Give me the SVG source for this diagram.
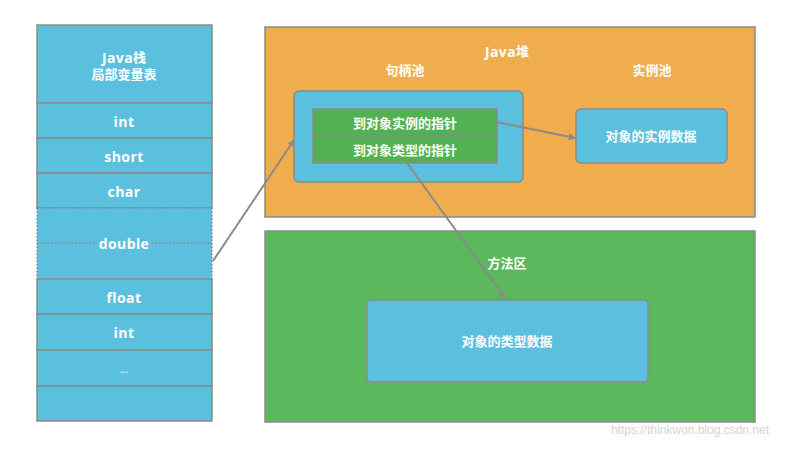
<svg xmlns="http://www.w3.org/2000/svg" width="804" height="461" viewBox="0 0 804 461">
<style>
text{font-family:"Open Sans","Noto Sans CJK SC",sans-serif;font-size:13px;font-weight:bold;fill:#fff;text-anchor:middle;dominant-baseline:central}
.lat{font-size:14px;letter-spacing:0.4px}
.blue{fill:#5bc0de;stroke:#8a8a8a;stroke-width:1.5}
.green{fill:#52b152;stroke:#8a8a8a;stroke-width:1.5}
.dot{stroke:#8a8a8a;stroke-width:1.5;stroke-dasharray:1.5 2;fill:none}
.conn{stroke:#8a8a8a;stroke-width:2;fill:none;marker-end:url(#ah)}
</style>
<defs>
<marker id="ah" viewBox="0 0 10 10" refX="9" refY="5" markerWidth="7" markerHeight="7" orient="auto" markerUnits="userSpaceOnUse">
<path d="M0,0 L10,5 L0,10 z" fill="#8a8a8a"/>
</marker>
</defs>
<rect width="804" height="461" fill="#fff"/>
<g id="stack">
<rect class="blue" x="37" y="25" width="175" height="78"/>
<text x="124" y="57"><tspan class="lat">Java</tspan>栈</text>
<text x="124" y="74">局部变量表</text>
<rect class="blue" x="37" y="103" width="175" height="35"/>
<text class="lat" x="124" y="121">int</text>
<rect class="blue" x="37" y="138" width="175" height="35"/>
<text class="lat" x="124" y="156">short</text>
<rect class="blue" x="37" y="173" width="175" height="35"/>
<text class="lat" x="124" y="191">char</text>
<rect x="37" y="208" width="175" height="71" fill="#5bc0de"/>
<path class="dot" d="M37,208 H212 M37,208 V279 M212,208 V279 M37,243 H97 M152,243 H212"/>
<text class="lat" x="124" y="243">double</text>
<rect class="blue" x="37" y="279" width="175" height="35"/>
<text class="lat" x="124" y="297">float</text>
<rect class="blue" x="37" y="314" width="175" height="36"/>
<text class="lat" x="124" y="332">int</text>
<rect class="blue" x="37" y="350" width="175" height="36"/>
<text x="124" y="368" style="font-weight:normal;font-size:11px">...</text>
<rect class="blue" x="37" y="386" width="175" height="35"/>
</g>
<g id="heap">
<rect x="265" y="27" width="490" height="190" fill="#f0ad4e" stroke="#8a8a8a" stroke-width="1.5"/>
<text x="507" y="51"><tspan class="lat">Java</tspan>堆</text>
<text x="405" y="70">句柄池</text>
<text x="652" y="70">实例池</text>
</g>
<g id="handle-pool">
<rect class="blue" x="294" y="91" width="229" height="91" rx="5"/>
<rect class="green" x="313" y="109" width="184" height="27"/>
<text x="405" y="123">到对象实例的指针</text>
<rect class="green" x="313" y="136" width="184" height="27"/>
<text x="405" y="150">到对象类型的指针</text>
</g>
<g id="instance-data">
<rect class="blue" x="576" y="109" width="151" height="54" rx="5"/>
<text x="651" y="136">对象的实例数据</text>
</g>
<g id="method-area">
<rect x="265" y="231" width="490" height="191" fill="#5cb85c" stroke="#8a8a8a" stroke-width="1.5"/>
<text x="507" y="263">方法区</text>
</g>
<g id="type-data">
<rect class="blue" x="367" y="300" width="281" height="82" rx="4"/>
<text x="507" y="341">对象的类型数据</text>
</g>
<g id="connectors">
<path class="conn" d="M213,261 L294,140"/>
<path class="conn" d="M497,122 L575,138"/>
<path class="conn" d="M407,163 L505,298"/>
</g>
<text x="690" y="430" style="font-family:'Liberation Sans',sans-serif;font-weight:normal;font-size:12px;fill:#d4d4d4">https://thinkwon.blog.csdn.net</text>
</svg>
